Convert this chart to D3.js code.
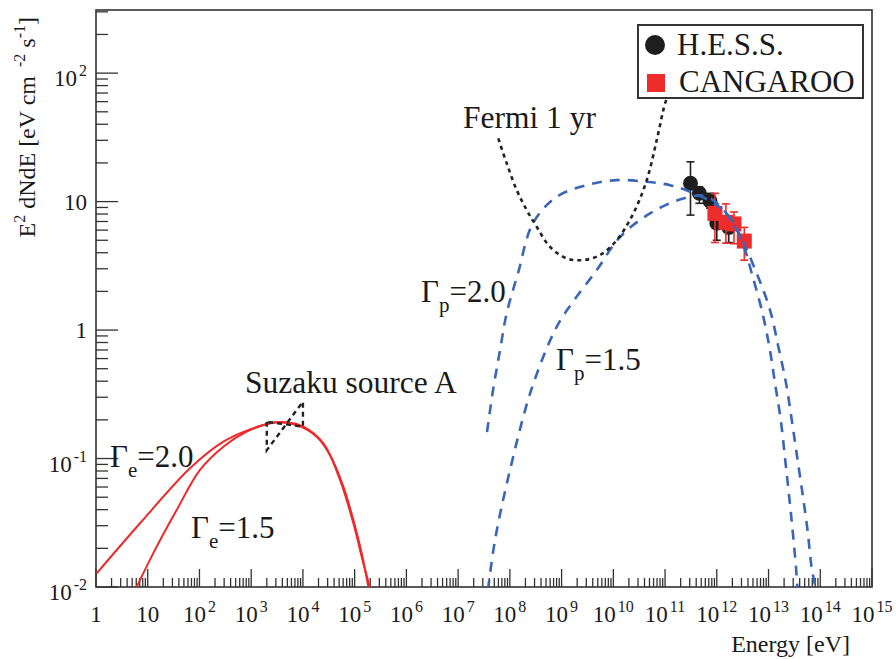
<!DOCTYPE html>
<html>
<head>
<meta charset="utf-8">
<script src="https://cdnjs.cloudflare.com/ajax/libs/d3/7.8.5/d3.min.js"></script>
<style>
    body { margin: 0; background: #fff; }
    text { font-family: "Liberation Serif", "Times New Roman", "DejaVu Serif", serif; fill: #1a1a1a; }
</style>
</head>
<body>
<div id="chart"></div>
<script>
// ---- data (energies in eV, E^2 dN/dE in eV cm^-2 s^-1) ----

// model curves, stored as [log10 E, log10 flux]
const electronG20 = [[0.013,-1.894],[0.851,-1.504],[1.817,-1.076],[2.462,-0.869],[2.977,-0.773],
    [3.460,-0.719],[3.879,-0.739],[4.266,-0.830],[4.523,-0.973],[4.781,-1.219],[4.975,-1.479],
    [5.136,-1.738],[5.265,-2.000],[5.30,-2.08]];
const electronG15 = [[0.773,-2.010],[1.173,-1.686],[1.559,-1.401],[2.010,-1.089],[2.462,-0.908],
    [2.913,-0.791],[3.364,-0.726],[3.686,-0.718],[4.008,-0.752],[4.395,-0.882],[4.717,-1.167],
    [4.975,-1.504],[5.168,-1.816],[5.297,-2.010],[5.33,-2.08]];
const protonG20 = [[7.558,-0.794],[7.680,-0.454],[7.810,-0.156],[7.939,0.132],[8.158,0.444],
    [8.448,0.833],[8.906,1.037],[9.486,1.128],[10.066,1.167],[10.646,1.154],[11.096,1.128],
    [11.483,1.076],[11.999,0.973],[12.314,0.843],[12.546,0.623],[12.676,0.441],[12.869,0.156],
    [13.016,-0.130],[13.126,-0.415],[13.236,-0.700],[13.319,-0.998],[13.396,-1.284],
    [13.468,-1.570],[13.532,-1.854],[13.56,-2.02]];
const protonG15 = [[7.578,-2.02],[7.713,-1.634],[8.003,-1.089],[8.423,-0.454],[8.906,0.026],
    [9.221,0.220],[9.679,0.467],[10.129,0.724],[10.709,0.908],[11.353,1.025],[11.772,1.043],
    [12.101,0.949],[12.449,0.732],[12.772,0.441],[13.029,0.156],[13.190,-0.130],[13.339,-0.415],
    [13.449,-0.700],[13.557,-0.998],[13.661,-1.284],[13.758,-1.570],[13.835,-1.854],[13.93,-2.04]];
const fermi1yr = [[7.777,1.492],[7.939,1.297],[8.133,1.089],[8.326,0.934],[8.519,0.804],
    [8.776,0.648],[9.099,0.558],[9.420,0.545],[9.743,0.584],[10.066,0.700],[10.387,0.908],
    [10.646,1.167],[10.839,1.479],[10.999,1.764],[11.048,1.813]];

// Suzaku source A bow tie (2-10 keV): low-E high, low-E low, high-E high, high-E low
const suzakuE = [2e3, 2e3, 1e4, 1e4];
const suzakuF = [0.193, 0.116, 0.277, 0.177];

// H.E.S.S. points
const hessE  = [3.1e11, 4.6e11, 7.4e11, 1.0e12, 1.7e12];
const hessF  = [13.9, 11.6, 10.1, 6.8, 6.3];
const hessLo = [7.85, 9.7, 8.9, 5.0, 4.8];
const hessHi = [20.4, 13.0, 11.6, 7.7, 7.4];

// CANGAROO points
const cangE  = [9.2e11, 1.5e12, 2.15e12, 3.4e12];
const cangF  = [8.1, 6.9, 6.7, 4.93];
const cangLo = [4.8, 4.75, 4.7, 3.5];
const cangHi = [11.6, 9.6, 8.3, 6.3];

// axis decades and labels ("base|exponent")
const xDecades = d3.range(0, 16);
const yDecades = [-2, -1, 0, 1, 2];
const yLabels  = ["10|-2", "10|-1", "1", "10", "10|2"];

// ---- layout ----
const width = 896, height = 659;
const margin = {top: 10, right: 24, bottom: 72, left: 96};
const w = width - margin.left - margin.right;
const h = height - margin.top - margin.bottom;

const svg = d3.select("#chart").append("svg")
    .attr("width", width)
    .attr("height", height);

const g = svg.append("g")
    .attr("transform", `translate(${margin.left},${margin.top})`);

const x = d3.scaleLog().domain([1, 1e15]).range([0, w]);
const y = d3.scaleLog().domain([1e-2, 310]).range([h, 0]);

g.append("clipPath").attr("id", "clip")
    .append("rect").attr("width", w).attr("height", h);

// ---- ticks ----
const xMinor = [], yMinor = [];
xDecades.slice(0, -1).forEach(p => { for (let k = 2; k < 10; k++) xMinor.push(k * 10 ** p); });
for (let p = -2; p <= 2; p++) { for (let k = 2; k < 10; k++) if (k * 10 ** p < 310) yMinor.push(k * 10 ** p); }

const tickColor = "#333";
g.selectAll(".xminor").data(xMinor).enter().append("line")
    .attr("x1", d => x(d)).attr("x2", d => x(d))
    .attr("y1", h).attr("y2", h - 9)
    .attr("stroke", tickColor).attr("stroke-width", 1.3);
g.selectAll(".xmajor").data(xDecades).enter().append("line")
    .attr("x1", d => x(10 ** d)).attr("x2", d => x(10 ** d))
    .attr("y1", h).attr("y2", h - 18)
    .attr("stroke", tickColor).attr("stroke-width", 1.3);
g.selectAll(".yminor").data(yMinor).enter().append("line")
    .attr("y1", d => y(d)).attr("y2", d => y(d))
    .attr("x1", 0).attr("x2", 12)
    .attr("stroke", tickColor).attr("stroke-width", 1.3);
g.selectAll(".ymajor").data(yDecades).enter().append("line")
    .attr("y1", d => y(10 ** d)).attr("y2", d => y(10 ** d))
    .attr("x1", 0).attr("x2", 22)
    .attr("stroke", tickColor).attr("stroke-width", 1.3);

// x tick labels
const xl = g.selectAll(".xlab").data(xDecades).enter().append("text")
    .attr("x", d => x(10 ** d))
    .attr("y", h + 35)
    .attr("text-anchor", "middle")
    .style("font-size", "23px");
xl.append("tspan").text(d => d === 0 ? "1" : "10");
xl.filter(d => d > 1).append("tspan")
    .attr("dy", -10).attr("dx", 2)
    .style("font-size", "16px")
    .text(d => d);

// y tick labels
const yTicks = yDecades.map((d, i) => ({dec: d, base: yLabels[i].split("|")[0], exp: yLabels[i].split("|")[1]}));
const yl = g.selectAll(".ylab").data(yTicks).enter().append("text")
    .attr("x", -9)
    .attr("y", d => y(10 ** d.dec) + (d.exp ? 13 : 8))
    .attr("text-anchor", "end")
    .style("font-size", "23px");
yl.append("tspan").text(d => d.base);
yl.filter(d => d.exp).append("tspan")
    .attr("dy", -10).attr("dx", 2)
    .style("font-size", "16px")
    .text(d => d.exp);

// frame
g.append("rect").attr("width", w).attr("height", h)
    .attr("fill", "none").attr("stroke", "#333").attr("stroke-width", 1.6);

// axis titles
svg.append("text")
    .attr("x", 850).attr("y", 652)
    .attr("text-anchor", "end")
    .style("font-size", "24px")
    .text("Energy [eV]");

const yt = svg.append("text")
    .attr("transform", "translate(35,17) rotate(-90)")
    .attr("text-anchor", "end")
    .style("font-size", "24px");
yt.append("tspan").text("E");
yt.append("tspan").attr("dy", -10).style("font-size", "16px").text("2");
yt.append("tspan").attr("dy", 10).text(" dNdE [eV cm");
yt.append("tspan").attr("dy", -10).attr("dx", 9).style("font-size", "16px").text("-2");
yt.append("tspan").attr("dy", 10).text(" s");
yt.append("tspan").attr("dy", -10).style("font-size", "16px").text("-1");
yt.append("tspan").attr("dy", 10).text("]");

// ---- markers ----
const pts = g.append("g");
function errorBars(E, lo, hi, color) {
    E.forEach((e, i) => {
        const px = x(e);
        pts.append("line").attr("x1", px).attr("x2", px)
            .attr("y1", y(lo[i])).attr("y2", y(hi[i]))
            .attr("stroke", color).attr("stroke-width", 1.6);
        [lo[i], hi[i]].forEach(v => {
            pts.append("line").attr("x1", px - 4).attr("x2", px + 4)
                .attr("y1", y(v)).attr("y2", y(v))
                .attr("stroke", color).attr("stroke-width", 1.6);
        });
    });
}
errorBars(hessE, hessLo, hessHi, "#222");
pts.selectAll(".hess").data(hessE).enter().append("circle")
    .attr("cx", d => x(d))
    .attr("cy", (d, i) => y(hessF[i]))
    .attr("r", 7.5)
    .attr("fill", "#1e1e1e");
errorBars(cangE, cangLo, cangHi, "#ee2c2c");
pts.selectAll(".cang").data(cangE).enter().append("rect")
    .attr("x", d => x(d) - 7.5)
    .attr("y", (d, i) => y(cangF[i]) - 7.5)
    .attr("width", 15).attr("height", 15)
    .attr("fill", "#ee2c2c");

// ---- curves ----
const curves = g.append("g").attr("clip-path", "url(#clip)");
const line = d3.line()
    .x(d => x(10 ** d[0]))
    .y(d => y(10 ** d[1]))
    .curve(d3.curveCatmullRom);

curves.append("path").datum(electronG20).attr("d", line)
    .attr("fill", "none").attr("stroke", "#f0282a").attr("stroke-width", 2);
curves.append("path").datum(electronG15).attr("d", line)
    .attr("fill", "none").attr("stroke", "#f0282a").attr("stroke-width", 2);
curves.append("path").datum(protonG20).attr("d", line)
    .attr("fill", "none").attr("stroke", "#3a66b8").attr("stroke-width", 2.6)
    .attr("stroke-dasharray", "10,8");
curves.append("path").datum(protonG15).attr("d", line)
    .attr("fill", "none").attr("stroke", "#3a66b8").attr("stroke-width", 2.6)
    .attr("stroke-dasharray", "10,8");
curves.append("path").datum(fermi1yr).attr("d", line)
    .attr("fill", "none").attr("stroke", "#222").attr("stroke-width", 2.6)
    .attr("stroke-dasharray", "4,4");

// bow tie: left edge, diagonal up, right edge, flat side back
const bowLine = d3.line().x(i => x(suzakuE[i])).y(i => y(suzakuF[i]));
curves.append("path").datum([0, 1, 2, 3, 0]).attr("d", bowLine)
    .attr("fill", "none").attr("stroke", "#222").attr("stroke-width", 2.4)
    .attr("stroke-dasharray", "5,4");

// ---- labels ----
svg.append("text").attr("x", 463).attr("y", 128)
    .style("font-size", "31.5px").text("Fermi 1 yr");
svg.append("text").attr("x", 245).attr("y", 393)
    .style("font-size", "31.5px").text("Suzaku source A");

function gammaLabel(px, py, sub, val) {
    const t = svg.append("text").attr("x", px).attr("y", py).style("font-size", "31px");
    t.append("tspan").text("\u0393");
    t.append("tspan").attr("dy", 10).style("font-size", "21px").text(sub);
    t.append("tspan").attr("dy", -10).attr("dx", 0).text("=" + val);
}
gammaLabel(421, 302, "p", "2.0");
gammaLabel(556, 370, "p", "1.5");
gammaLabel(110, 467, "e", "2.0");
gammaLabel(191, 538, "e", "1.5");

// ---- legend ----
const lg = svg.append("g");
lg.append("rect").attr("x", 638).attr("y", 25).attr("width", 225).attr("height", 73)
    .attr("fill", "#fff").attr("stroke", "#333").attr("stroke-width", 2);
lg.append("circle").attr("cx", 655).attr("cy", 45).attr("r", 10).attr("fill", "#1e1e1e");
lg.append("text").attr("x", 677).attr("y", 55).style("font-size", "31px").text("H.E.S.S.");
lg.append("rect").attr("x", 647).attr("y", 74).attr("width", 18).attr("height", 18).attr("fill", "#ee2c2c");
lg.append("text").attr("x", 679).attr("y", 92).style("font-size", "31px").text("CANGAROO");
</script>
</body>
</html>
